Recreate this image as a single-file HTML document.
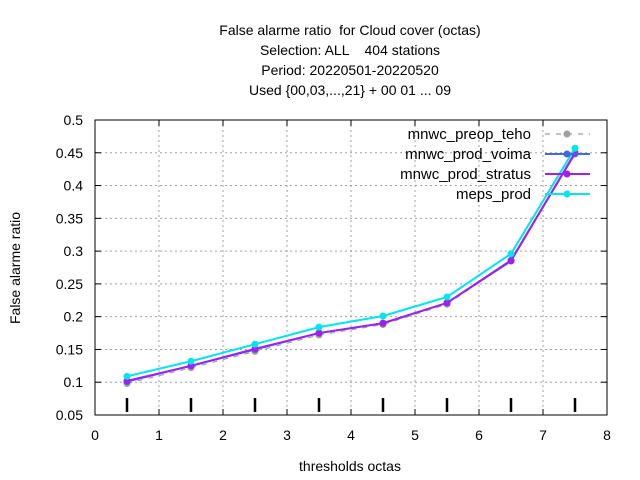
<!DOCTYPE html>
<html><head><meta charset="utf-8"><style>body{margin:0;background:#fff}svg{display:block;font-family:"Liberation Sans",sans-serif}text{white-space:pre}</style></head>
<body>
<svg id="chart" width="640" height="480">
<rect width="640" height="480" fill="#fff"/>
<g font-size="14" text-anchor="middle" fill="#000">
<text x="350" y="35" xml:space="preserve">False alarme ratio  for Cloud cover (octas)</text>
<text x="350" y="55" xml:space="preserve">Selection: ALL    404 stations</text>
<text x="350" y="75">Period: 20220501-20220520</text>
<text x="350" y="95">Used {00,03,...,21} + 00 01 ... 09</text>
</g>
<g id="grid"></g>
<g id="axes"></g>
<g id="series"></g>
<g id="legend"></g>
<text x="350" y="471" font-size="14" text-anchor="middle">thresholds octas</text>
<text x="20" y="268" font-size="14" text-anchor="middle" transform="rotate(-90 20 268)">False alarme ratio</text>
</svg>
<script>
const xs = [0.5,1.5,2.5,3.5,4.5,5.5,6.5,7.5];
const preop = [0.098,0.122,0.147,0.172,0.188,0.219,0.285,0.448];
const voima = [0.101,0.125,0.150,0.175,0.190,0.221,0.286,0.449];
const stratus = [0.102,0.125,0.151,0.175,0.190,0.221,0.285,0.450];
const meps = [0.109,0.132,0.158,0.184,0.201,0.230,0.296,0.457];
const xTicks = [0,1,2,3,4,5,6,7,8];
const yTicks = [0.05,0.1,0.15,0.2,0.25,0.3,0.35,0.4,0.45,0.5];
const names = ["mnwc_preop_teho","mnwc_prod_voima","mnwc_prod_stratus","meps_prod"];
const L=95,R=607,T=120,B=415;
const X=v=>L+(v-0)/8*(R-L);
const Y=v=>B-(v-0.05)/0.45*(B-T);
const NS="http://www.w3.org/2000/svg";
function mk(p,t,a){const e=document.createElementNS(NS,t);for(const k in a)e.setAttribute(k,a[k]);p.appendChild(e);return e;}
const grid=document.getElementById('grid'),axes=document.getElementById('axes'),ser=document.getElementById('series'),leg=document.getElementById('legend');
xTicks.forEach(t=>{
 if(t>0&&t<8){const l=mk(grid,'line',{x1:X(t),x2:X(t),y1:T,y2:B,stroke:'#a0a0a0','stroke-dasharray':'2,3'});
 
 }
 mk(axes,'line',{x1:X(t),x2:X(t),y1:B,y2:B-6,stroke:'#000'});
 mk(axes,'line',{x1:X(t),x2:X(t),y1:T,y2:T+6,stroke:'#000'});
 const tx=mk(axes,'text',{x:X(t),y:B+25,'font-size':14,'text-anchor':'middle'});tx.textContent=t;
 
 
});
yTicks.forEach(t=>{
 if(t>0.06&&t<0.49){const l=mk(grid,'line',{x1:L,x2:R,y1:Y(t),y2:Y(t),stroke:'#a0a0a0','stroke-dasharray':'2,3'});
 
 }
 mk(axes,'line',{x1:L,x2:L+6,y1:Y(t),y2:Y(t),stroke:'#000'});
 mk(axes,'line',{x1:R,x2:R-6,y1:Y(t),y2:Y(t),stroke:'#000'});
 const tx=mk(axes,'text',{x:L-12,y:Y(t)+5,'font-size':14,'text-anchor':'end'});tx.textContent=String(t);
 
 
});
mk(axes,'rect',{x:L,y:T,width:R-L,height:B-T,fill:'none',stroke:'#000'});
xs.forEach(x=>{const m=mk(axes,'line',{x1:X(x),x2:X(x),y1:B-17,y2:B-3,stroke:'#000','stroke-width':2.5});
 
 });
const series=[[preop,'#a0a0a0','5,6',1.2],[voima,'#4169e1','',2],[stratus,'#a020f0','',2],[meps,'#00e5ee','',2]];
series.forEach((s,i)=>{
 const [d,c,dash,w]=s;
 const pts=xs.map((x,j)=>X(x)+','+Y(d[j])).join(' ');
 const pl=mk(ser,'polyline',{points:pts,fill:'none',stroke:c,'stroke-width':w,'stroke-dasharray':dash});
 
 
 xs.forEach((x,j)=>{const p=mk(ser,'circle',{cx:X(x),cy:Y(d[j]),r:3.5,fill:c});
  
  });
 const ly=134+20*i;
 const t=mk(leg,'text',{x:531,y:ly+5,'font-size':15,'text-anchor':'end'});t.textContent=names[i];
 
 
 mk(leg,'line',{x1:545,x2:590,y1:ly,y2:ly,stroke:c,'stroke-width':w,'stroke-dasharray':dash});
 mk(leg,'circle',{cx:567,cy:ly,r:3.5,fill:c});
});
</script>
</body></html>
